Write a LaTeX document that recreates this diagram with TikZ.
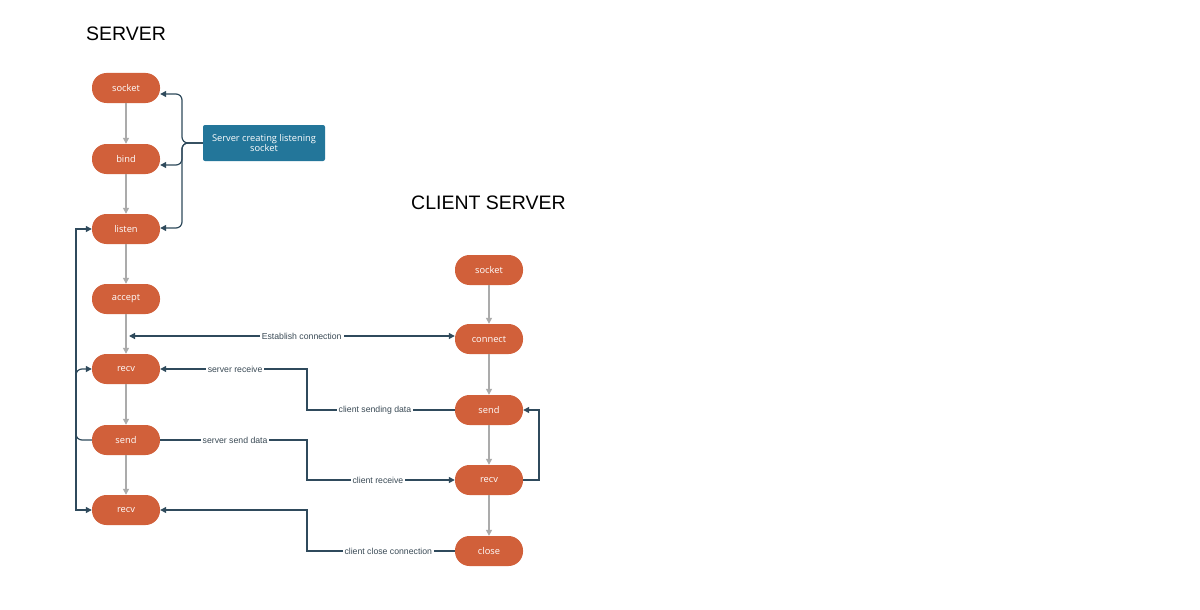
\documentclass[tikz,border=0pt]{standalone}
\usepackage{fontspec}
\setmainfont{Liberation Sans}
\newfontfamily\nodefont{Open Sans}
\usetikzlibrary{arrows.meta,calc}
\definecolor{nodeor}{HTML}{D1603A}
\definecolor{boxblue}{HTML}{23769A}
\definecolor{linec}{HTML}{2F4A5C}
\definecolor{grayc}{HTML}{ABABAB}
\definecolor{lblc}{HTML}{3A4A55}
\tikzset{
  tip/.tip={Triangle[length=6pt,width=6pt]},
  stepnode/.style={draw=none,fill=nodeor,rounded corners=14.5pt,minimum width=68pt,minimum height=30pt,inner sep=0pt,text=white,font=\nodefont\fontsize{9.3}{10}\selectfont},
  flow/.style={draw=grayc,line width=1.2pt,-tip},
  conn/.style={draw=linec,line width=1.2pt,-tip},
  lbl/.style={fill=white,inner sep=2pt,text=lblc,font=\fontsize{8.7}{10}\selectfont},
  title/.style={font=\fontsize{19.5}{22}\selectfont,text=black,inner sep=0pt}
}
\begin{document}
\begin{tikzpicture}[x=1pt,y=-1pt]
\useasboundingbox (0,0) rectangle (1200,610);
\fill[white] (0,0) rectangle (1200,610);
\node[title,anchor=west] (t1) at (86,34) {SERVER};
\node[title,anchor=west] (t2) at (411,203) {CLIENT SERVER};
% server column
\node[stepnode] (ssock) at (126,88) {socket};
\node[stepnode] (sbind) at (126,159) {bind};
\node[stepnode] (slist) at (126,229) {listen};
\node[stepnode] (sacc) at (126,299) {accept};
\node[stepnode] (srecv1) at (126,369) {recv};
\node[stepnode] (ssend) at (126,440) {send};
\node[stepnode] (srecv2) at (126,510) {recv};
% client column
\node[stepnode] (csock) at (489,270) {socket};
\node[stepnode] (cconn) at (489,339) {connect};
\node[stepnode] (csend) at (489,410) {send};
\node[stepnode] (crecv) at (489,480) {recv};
\node[stepnode] (cclose) at (489,551) {close};
% blue box
\node[fill=boxblue,rounded corners=2pt,minimum width=122pt,minimum height=36pt,inner sep=0pt,text=white,align=center,font=\nodefont\fontsize{9.3}{9.5}\selectfont] (box) at (264,143) {Server creating listening\\socket};
% vertical flows
\draw[flow] (ssock) -- (sbind);
\draw[flow] (sbind) -- (slist);
\draw[flow] (slist) -- (sacc);
\draw[flow] (sacc) -- (srecv1);
\draw[flow] (srecv1) -- (ssend);
\draw[flow] (ssend) -- (srecv2);
\draw[flow] (csock) -- (cconn);
\draw[flow] (cconn) -- (csend);
\draw[flow] (csend) -- (crecv);
\draw[flow] (crecv) -- (cclose);
% coordinates
\coordinate (bx) at (182,0);
\coordinate (lx) at (76,0);
\coordinate (mx) at (307,0);
\coordinate (rx) at (539,0);
\coordinate (ec) at (129,336);
% brace
\draw[conn,rounded corners=6pt] (box.west) -- (box.west -| bx) |- ([yshift=-6pt]ssock.east);
\draw[conn,rounded corners=6pt] (box.west) -- (box.west -| bx) |- ([yshift=-6pt]sbind.east);
\draw[conn,rounded corners=6pt] (box.west) -- (box.west -| bx) |- ([yshift=1pt]slist.east);
% left loops
\draw[conn,tip-tip] (slist.west) -- (slist.west -| lx) -- (srecv2.west -| lx) -- (srecv2.west);
\draw[conn,rounded corners=6pt] (ssend.west) -- (ssend.west -| lx) -- (srecv1.west -| lx) -- (srecv1.west);
% establish connection
\draw[conn,tip-tip] (ec) -- node[lbl,pos=0.53] (l1) {Establish connection} (ec -| cconn.west);
% client send -> server recv
\draw[conn] (csend.west) -- node[lbl,pos=0.54] (l2) {client sending data} (csend.west -| mx) -- (srecv1.east -| mx) -- node[lbl,pos=0.49] (l3) {server receive} (srecv1.east);
% server send -> client recv
\draw[conn] (ssend.east) -- node[lbl,pos=0.51] (l4) {server send data} (ssend.east -| mx) -- (crecv.west -| mx) -- node[lbl,pos=0.48] (l5) {client receive} (crecv.west);
% close
\draw[conn] (cclose.west) -- node[lbl,pos=0.45] (l6) {client close connection} (cclose.west -| mx) -- (srecv2.east -| mx) -- (srecv2.east);
% client loop
\draw[conn] (crecv.east) -- (crecv.east -| rx) -- (csend.east -| rx) -- (csend.east);
\end{tikzpicture}
\end{document}
